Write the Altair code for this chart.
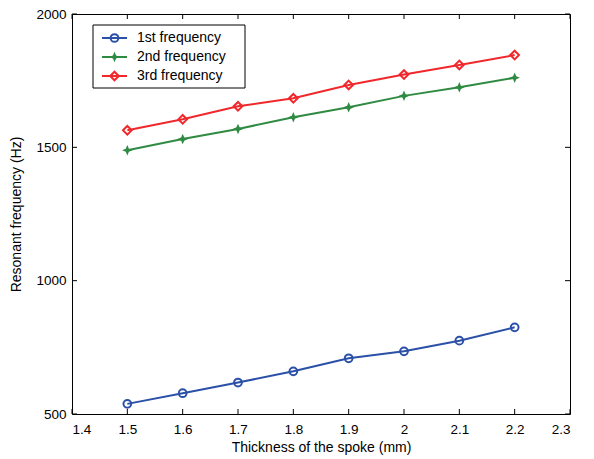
import altair as alt
import pandas as pd

thickness = [1.5, 1.6, 1.7, 1.8, 1.9, 2.0, 2.1, 2.2]
first_freq = [538, 578, 618, 660, 709, 735, 775, 825]
second_freq = [1489, 1531, 1569, 1613, 1650, 1693, 1725, 1761]
third_freq = [1564, 1605, 1654, 1684, 1734, 1773, 1809, 1846]
series_names = ["1st frequency", "2nd frequency", "3rd frequency"]
colors = ["#2b50a8", "#2f8a42", "#f0282c"]
x_ticks = [1.4, 1.5, 1.6, 1.7, 1.8, 1.9, 2.0, 2.1, 2.2, 2.3]
y_ticks = [500, 1000, 1500, 2000]

W, H = 498, 400
FONT = "Liberation Sans"

star = "M0,-1L0.3,-0.3L1,0L0.3,0.3L0,1L-0.3,0.3L-1,0L-0.3,-0.3Z"
shapes = ["circle", star, "diamond"]
filled = [False, True, False]
sizes = [60, 110, 75]

xs = alt.Scale(domain=[1.4, 2.3], nice=False, zero=False)
ys = alt.Scale(domain=[500, 2000], nice=False, zero=False)

xaxis = alt.Axis(values=x_ticks, format="~g", ticks=False, domain=False, grid=False,
                 labelPadding=8, title="Thickness of the spoke (mm)", titlePadding=5)
yaxis = alt.Axis(values=y_ticks, format="d", ticks=False, domain=False, grid=False,
                 labelPadding=6, title="Resonant frequency (Hz)", titlePadding=12)

layers = []
all_vals = [first_freq, second_freq, third_freq]
for i, (name, vals) in enumerate(zip(series_names, all_vals)):
    df = pd.DataFrame({"t": thickness, "f": vals, "s": name})
    base = alt.Chart(df)
    enc = dict(x=alt.X("t:Q", scale=xs, axis=xaxis),
               y=alt.Y("f:Q", scale=ys, axis=yaxis))
    layers.append(base.mark_line(color=colors[i], strokeWidth=2).encode(**enc))
    layers.append(base.mark_point(shape=shapes[i], color=colors[i], filled=filled[i],
                                  size=sizes[i], strokeWidth=2, opacity=1).encode(**enc))

# inward ticks
dx = pd.DataFrame({"t": x_ticks})
dy = pd.DataFrame({"f": y_ticks})
layers.append(alt.Chart(dx).mark_rule(color="black").encode(
    x=alt.X("t:Q", scale=xs), y=alt.value(H), y2=alt.value(H - 5)))
layers.append(alt.Chart(dx).mark_rule(color="black").encode(
    x=alt.X("t:Q", scale=xs), y=alt.value(0), y2=alt.value(5)))
layers.append(alt.Chart(dy).mark_rule(color="black").encode(
    y=alt.Y("f:Q", scale=ys), x=alt.value(0), x2=alt.value(5)))
layers.append(alt.Chart(dy).mark_rule(color="black").encode(
    y=alt.Y("f:Q", scale=ys), x=alt.value(W), x2=alt.value(W - 5)))

# legend
leg = pd.DataFrame({"label": series_names, "py": [24, 43, 62]})
layers.append(alt.Chart(leg).mark_rect(fill="white", stroke="black", strokeWidth=1).encode(
    x=alt.value(21), x2=alt.value(173), y=alt.value(11), y2=alt.value(74)).transform_filter(
    alt.datum.label == series_names[0]))
for i, name in enumerate(series_names):
    d = alt.Chart(leg).transform_filter(alt.datum.label == name)
    layers.append(d.mark_rule(color=colors[i], strokeWidth=2).encode(
        x=alt.value(30), x2=alt.value(55), y=alt.Y("py:Q", scale=None)))
    layers.append(d.mark_point(shape=shapes[i], color=colors[i], filled=filled[i],
                               size=sizes[i], strokeWidth=2, opacity=1).encode(
        x=alt.value(42.5), y=alt.Y("py:Q", scale=None)))
    layers.append(d.mark_text(align="left", baseline="middle", font=FONT, fontSize=14,
                              color="black").encode(
        x=alt.value(65), y=alt.Y("py:Q", scale=None), text="label:N"))

chart = alt.layer(*layers).properties(
    width=W, height=H,
    autosize=alt.AutoSizeParams(type="none"),
    padding={"left": 64, "top": 6, "right": 10, "bottom": 45},
).configure_view(stroke="black", strokeWidth=1).configure_axis(
    labelFont=FONT, titleFont=FONT, labelFontSize=13.5, titleFontSize=14,
    labelColor="black", titleColor="black", titleFontWeight="normal"
)

chart.save("out.html", embed_options={"renderer": "svg", "actions": False})
